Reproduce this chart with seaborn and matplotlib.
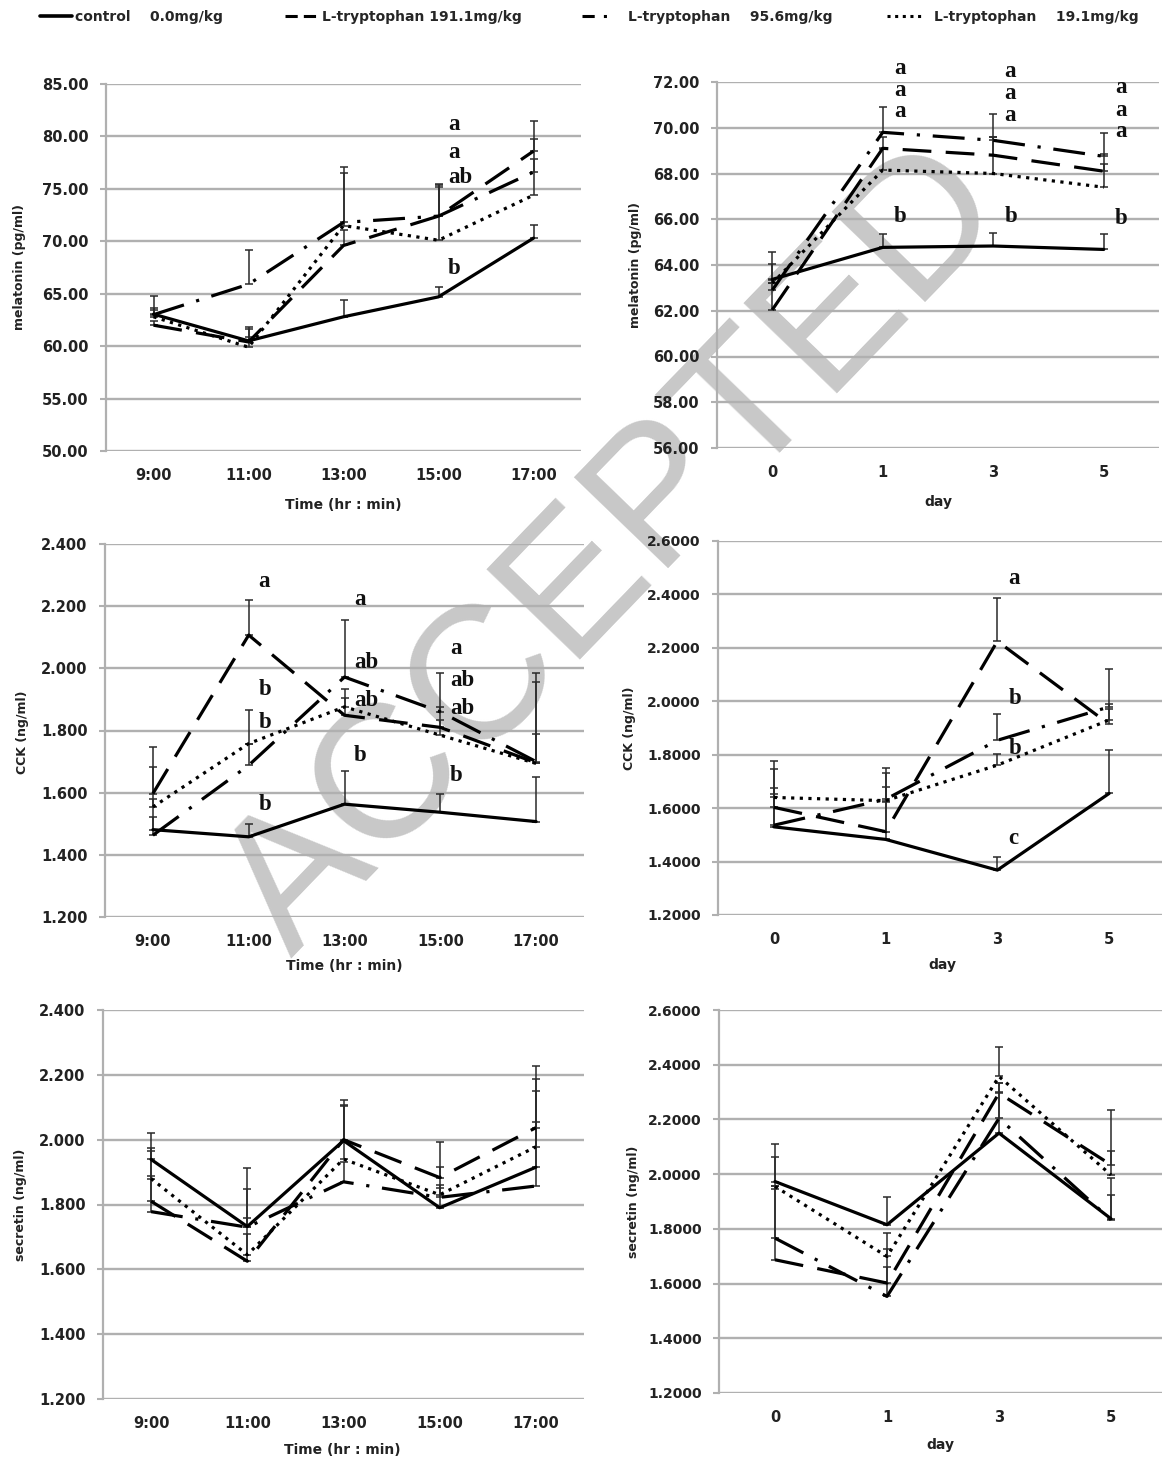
import matplotlib
matplotlib.use('Agg')
import matplotlib.pyplot as plt
from matplotlib.lines import Line2D
import numpy as np
import pandas as pd
import seaborn as sns

W, H = 1162, 1461

groups = ['control', 't191', 't95', 't19']
legend_labels = ['control    0.0mg/kg', 'L-tryptophan 191.1mg/kg',
                 'L-tryptophan    95.6mg/kg', 'L-tryptophan    19.1mg/kg']
time_labels = ['9:00', '11:00', '13:00', '15:00', '17:00']
day_labels = ['0', '1', '3', '5']

# rows: control, 191.1, 95.6, 19.1 mg/kg
mel_time_mean = [[63.05, 60.50, 62.80, 64.70, 70.30],
                 [62.00, 60.40, 69.60, 72.40, 78.60],
                 [63.00, 65.90, 71.80, 72.40, 76.60],
                 [62.80, 59.90, 71.50, 70.10, 74.40]]
mel_time_err = [[1.70, 1.30, 1.60, 0.95, 1.30],
                [0.40, 1.20, 1.50, 3.05, 2.90],
                [0.60, 3.30, 5.25, 2.80, 3.20],
                [0.60, 1.00, 5.00, 5.30, 3.40]]
mel_time_letters = [(3, 'a', 81.1), (3, 'a', 78.5), (3, 'ab', 76.1), (3, 'b', 67.45)]

mel_day_mean = [[63.37, 64.77, 64.83, 64.68],
                [62.04, 69.10, 68.80, 68.10],
                [62.90, 69.80, 69.45, 68.75],
                [63.20, 68.15, 68.00, 67.40]]
mel_day_err = [[1.18, 0.58, 0.58, 0.69],
               [1.30, 0.50, 0.80, 0.30],
               [0.30, 1.10, 1.15, 1.00],
               [0.85, 0.90, 1.60, 1.45]]
mel_day_letters = [(1, 'a', 72.58), (1, 'a', 71.64), (1, 'a', 70.69), (1, 'b', 66.1),
                   (2, 'a', 72.44), (2, 'a', 71.49), (2, 'a', 70.55), (2, 'b', 66.1),
                   (3, 'a', 71.75), (3, 'a', 70.76), (3, 'a', 69.82), (3, 'b', 66.04)]

cck_time_mean = [[1.481, 1.458, 1.563, 1.537, 1.507],
                 [1.597, 2.107, 1.849, 1.810, 1.696],
                 [1.463, 1.688, 1.972, 1.860, 1.700],
                 [1.554, 1.758, 1.876, 1.785, 1.694]]
cck_time_err = [[0.040, 0.042, 0.107, 0.060, 0.144],
                [0.150, 0.113, 0.054, 0.066, 0.290],
                [0.118, 0.070, 0.183, 0.126, 0.257],
                [0.129, 0.107, 0.059, 0.050, 0.096]]
cck_time_letters = [(1, 'a', 2.279), (1, 'b', 1.932), (1, 'b', 1.825), (1, 'b', 1.563),
                    (2, 'a', 2.220), (2, 'ab', 2.018), (2, 'ab', 1.896), (2, 'b', 1.721),
                    (3, 'a', 2.064), (3, 'ab', 1.960), (3, 'ab', 1.871), (3, 'b', 1.656)]

cck_day_mean = [[1.530, 1.483, 1.368, 1.655],
                [1.603, 1.512, 2.225, 1.914],
                [1.536, 1.633, 1.854, 1.979],
                [1.640, 1.628, 1.761, 1.930]]
cck_day_err = [[0.122, 0.140, 0.050, 0.162],
               [0.174, 0.168, 0.163, 0.075],
               [0.138, 0.119, 0.100, 0.140],
               [0.105, 0.104, 0.041, 0.040]]
cck_day_letters = [(2, 'a', 2.459), (2, 'b', 2.010), (2, 'b', 1.823), (2, 'c', 1.487)]

sec_time_mean = [[1.939, 1.732, 1.997, 1.790, 1.915],
                 [1.810, 1.625, 2.000, 1.883, 2.037],
                 [1.778, 1.730, 1.870, 1.822, 1.857],
                 [1.880, 1.645, 1.940, 1.830, 1.978]]
sec_time_err = [[0.081, 0.180, 0.125, 0.125, 0.236],
                [0.155, 0.083, 0.107, 0.111, 0.191],
                [0.110, 0.117, 0.062, 0.030, 0.196],
                [0.095, 0.112, 0.165, 0.030, 0.208]]

sec_day_mean = [[1.973, 1.815, 2.150, 1.837],
                [1.687, 1.602, 2.296, 2.034],
                [1.766, 1.553, 2.204, 1.833],
                [1.955, 1.699, 2.357, 1.997]]
sec_day_err = [[0.138, 0.100, 0.152, 0.148],
               [0.270, 0.125, 0.036, 0.201],
               [0.180, 0.106, 0.128, 0.089],
               [0.109, 0.085, 0.109, 0.086]]

dash_map = {'control': '', 't191': (9, 4.5), 't95': (10, 4, 1, 4), 't19': (1, 1.7)}
legend_dashes = {'control': None, 't191': (4, 2), 't95': (4, 3, 1, 3), 't19': (1, 1.5)}

sns.set_theme(style='white')
plt.rcParams['font.family'] = ['DejaVu Sans']

fig = plt.figure(figsize=(W / 100, H / 100), dpi=100, facecolor='white')

# watermark sits on a background layer, under the charts
bg = fig.add_axes([0, 0, 1, 1], zorder=-1)
bg.axis('off')
bg.text(616 / W, 1 - 552 / H, 'ACCEPTED', fontsize=137, family='Liberation Sans',
        color='#c8c8c8', rotation=46, rotation_mode='anchor', ha='center', va='center')

# box = (left, top, right, bottom) in px; label centres in px
panels = [
    dict(box=(106, 84, 581, 451), ylim=(50, 85), step=5, fmt='{:.2f}', fs=10.5,
         xt=time_labels, xl='Time (hr : min)', yl='melatonin (pg/ml)',
         xlc=(343, 505), ylc=(20, 267), mean=mel_time_mean, err=mel_time_err,
         letters=mel_time_letters),
    dict(box=(717, 82, 1159, 448), ylim=(56, 72), step=2, fmt='{:.2f}', fs=10.5,
         xt=day_labels, xl='day', yl='melatonin (pg/ml)',
         xlc=(938, 502), ylc=(636, 265), mean=mel_day_mean, err=mel_day_err,
         letters=mel_day_letters),
    dict(box=(105, 544, 584, 917), ylim=(1.2, 2.4), step=0.2, fmt='{:.3f}', fs=10.5,
         xt=time_labels, xl='Time (hr : min)', yl='CCK (ng/ml)',
         xlc=(344, 966), ylc=(23, 732), mean=cck_time_mean, err=cck_time_err,
         letters=cck_time_letters),
    dict(box=(718, 541, 1165, 915), ylim=(1.2, 2.6), step=0.2, fmt='{:.4f}', fs=10,
         xt=day_labels, xl='day', yl='CCK (ng/ml)',
         xlc=(942, 965), ylc=(630, 728), mean=cck_day_mean, err=cck_day_err,
         letters=cck_day_letters),
    dict(box=(103, 1010, 584, 1399), ylim=(1.2, 2.4), step=0.2, fmt='{:.3f}', fs=10.5,
         xt=time_labels, xl='Time (hr : min)', yl='secretin (ng/ml)',
         xlc=(342, 1450), ylc=(21, 1205), mean=sec_time_mean, err=sec_time_err,
         letters=[]),
    dict(box=(719, 1010, 1167, 1393), ylim=(1.2, 2.6), step=0.2, fmt='{:.4f}', fs=10,
         xt=day_labels, xl='day', yl='secretin (ng/ml)',
         xlc=(940, 1445), ylc=(633, 1202), mean=sec_day_mean, err=sec_day_err,
         letters=[]),
]

grid_c = '#b0b0b0'
text_c = '#222222'

for p in panels:
    l, t, r, b = p['box']
    ax = fig.add_axes([l / W, 1 - b / H, (r - l) / W, (b - t) / H])
    n = len(p['xt'])
    pos = np.arange(n)

    rows = []
    for g, vals in zip(groups, p['mean']):
        for i, v in enumerate(vals):
            rows.append({'pos': i, 'value': v, 'group': g})
    df = pd.DataFrame(rows)

    for g, vals, errs in zip(groups, p['mean'], p['err']):
        ax.errorbar(pos, vals, yerr=[np.zeros(n), errs], fmt='none', ecolor='#2a2a2a',
                    elinewidth=1.1, capsize=2.6, capthick=1.1, zorder=2)

    sns.lineplot(data=df, x='pos', y='value', style='group', style_order=groups,
                 dashes=dash_map, color='black', linewidth=2.3, legend=False,
                 estimator=None, sort=False, ax=ax, zorder=3)

    for cat, txt, yv in p['letters']:
        ax.text(cat + 0.1, yv, txt, ha='left', va='center', fontsize=16.5,
                fontweight='bold', family='Liberation Serif', color='#111111',
                zorder=4)

    lo, hi = p['ylim']
    ticks = np.arange(lo, hi + p['step'] / 2, p['step'])
    ax.set_ylim(lo, hi)
    ax.set_xlim(-0.5, n - 0.5)
    ax.set_yticks(ticks)
    ax.set_yticklabels([p['fmt'].format(v) for v in ticks], fontsize=p['fs'],
                       fontweight='bold', color=text_c)
    ax.set_xticks(pos)
    ax.set_xticklabels(p['xt'], fontsize=10.5, fontweight='bold', color=text_c)
    ax.tick_params(axis='y', length=4.5, width=1.5, color=grid_c, pad=8, left=True)
    ax.tick_params(axis='x', length=0, pad=12)
    ax.grid(axis='y', color=grid_c, linewidth=1.7)
    ax.grid(axis='x', visible=False)
    for s in ['top', 'right', 'bottom']:
        ax.spines[s].set_visible(False)
    ax.spines['left'].set_color(grid_c)
    ax.spines['left'].set_linewidth(1.6)
    ax.set_facecolor('none')

    ax.set_xlabel(p['xl'], fontsize=10, fontweight='bold', color=text_c)
    ax.set_ylabel(p['yl'], fontsize=9, fontweight='bold', color=text_c)
    ax.xaxis.set_label_coords((p['xlc'][0] - l) / (r - l), (b - p['xlc'][1]) / (b - t))
    ax.yaxis.set_label_coords((p['ylc'][0] - l) / (r - l), (b - p['ylc'][1]) / (b - t))
    ax.xaxis.label.set_va('center')
    ax.yaxis.label.set_va('center')

# legend row at the top
leg_x = [40, 285, 582, 887]
leg_len = [2.3, 2.5, 2.2, 2.7]
leg_pad = [0.2, 0.15, 1.1, 0.7]
for g, lab, x0, hl, hp in zip(groups, legend_labels, leg_x, leg_len, leg_pad):
    d = legend_dashes[g]
    h = Line2D([], [], color='black', lw=2.6 if d is None else 2.2)
    if d is not None:
        h.set_dashes(d)
    fig.legend(handles=[h], labels=[lab], loc='center left',
               bbox_to_anchor=(x0 / W, 1 - 17 / H), frameon=False,
               handlelength=hl, handletextpad=hp, borderpad=0, borderaxespad=0,
               prop=dict(weight='bold', size=10))

fig.savefig('out.png', dpi=100, facecolor='white')
